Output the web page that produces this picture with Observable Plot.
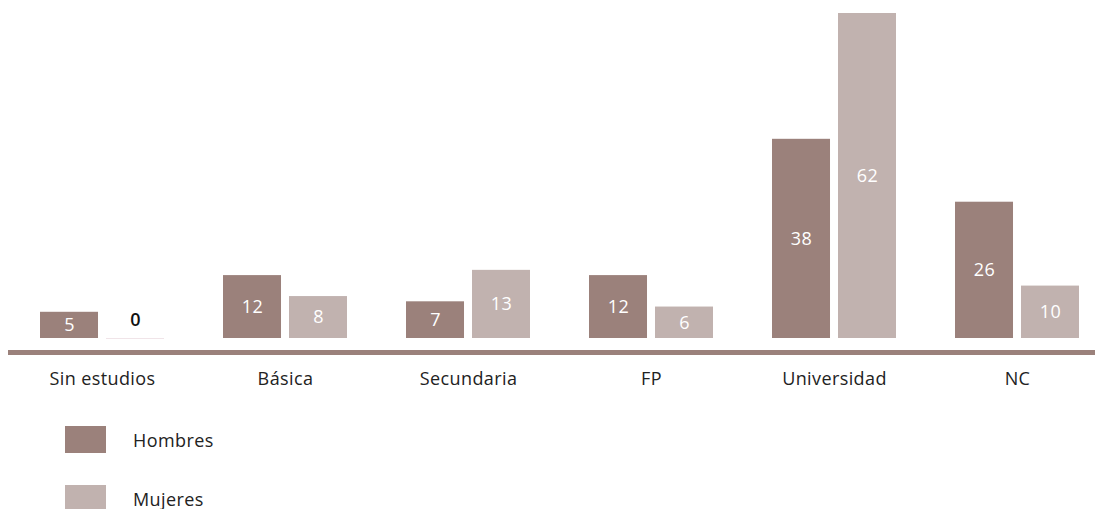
<!DOCTYPE html>
<html>
<head>
<meta charset="utf-8">
<script src="https://cdn.jsdelivr.net/npm/d3@7"></script>
<script src="https://cdn.jsdelivr.net/npm/@observablehq/plot@0.6"></script>
<style>
  body { margin: 0; background: #fff; font-family: 'Open Sans', sans-serif; }
  #chart svg { display: block; }
  #chart svg text { letter-spacing: 0.4px; }
  .legend { position: relative; height: 109px; }
  .row { position: absolute; left: 65px; display: flex; align-items: center; font-size: 18px; color: #222; letter-spacing: 0.4px; }
  .sw { width: 41px; height: 27px; margin-right: 27px; }
</style>
</head>
<body>
<div id="chart"></div>
<div class="legend" id="legend"></div>
<script>
const categories = ["Sin estudios", "Básica", "Secundaria", "FP", "Universidad", "NC"];
const hombres = [5, 12, 7, 12, 38, 26];
const mujeres = [0, 8, 13, 6, 62, 10];
const series = ["Hombres", "Mujeres"];
const colors = ["#9b817b", "#c1b2af"];

const data = categories.flatMap((c, i) => [
  {cat: c, sex: series[0], value: hombres[i]},
  {cat: c, sex: series[1], value: mujeres[i]}
]);

const plot = Plot.plot({
  width: 1095,
  height: 400,
  marginTop: 13,
  marginBottom: 62,
  marginLeft: 10.5,
  marginRight: -13.5,
  style: {fontFamily: "'Open Sans', sans-serif", fontSize: "18px", color: "#222", background: "#fff"},
  fx: {domain: categories, padding: 0, round: false, label: null, axis: "bottom", tickSize: 0, tickPadding: 34},
  x: {domain: series, paddingInner: 0.121, paddingOuter: 0.447, round: false, axis: null},
  y: {domain: [0, 62], axis: null},
  color: {domain: series, range: colors},
  marks: [
    Plot.barY(data, {filter: d => d.value > 0, fx: "cat", x: "sex", y: "value", fill: "sex"}),
    Plot.tickY(data, {filter: d => d.value === 0, fx: "cat", x: "sex", y: "value", stroke: "#f0e4e8", strokeWidth: 1}),
    Plot.text(data, {filter: d => d.value > 0, fx: "cat", x: "sex", y: d => d.value / 2, text: "value", fill: "white", fontSize: 18}),
    Plot.text(data, {filter: d => d.value === 0, fx: "cat", x: "sex", y: "value", text: "value", fill: "#111", fontSize: 18, fontWeight: 600, dy: -18})
  ]
});

d3.select(plot).append("line")
  .attr("x1", 8).attr("x2", 1095)
  .attr("y1", 352.5).attr("y2", 352.5)
  .attr("stroke", colors[0]).attr("stroke-width", 5);

document.getElementById("chart").appendChild(plot);

const legend = document.getElementById("legend");
series.forEach((s, i) => {
  const row = document.createElement("div");
  row.className = "row";
  row.style.top = (26 + i * 59) + "px";
  const sw = document.createElement("div");
  sw.className = "sw";
  sw.style.background = colors[i];
  const t = document.createElement("span");
  t.textContent = s;
  row.appendChild(sw);
  row.appendChild(t);
  legend.appendChild(row);
});
</script>
</body>
</html>
